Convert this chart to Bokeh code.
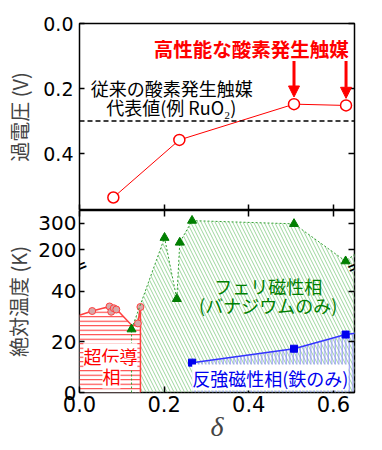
from bokeh.plotting import figure
from bokeh.layouts import column
from bokeh.models import (Range1d, LinearAxis, FixedTicker, PrintfTickFormatter,
                          CustomJSTickFormatter, Span, Arrow, NormalHead, Label)
from bokeh.embed import file_html
from bokeh.resources import INLINE

# ---------------- data ----------------
# overpotential (V) vs delta
ov_delta = [0.08, 0.236, 0.507, 0.630]
ov_volt = [0.535, 0.358, 0.248, 0.252]
ruo2_volt = 0.30
best_idx = [2, 3]

# superconducting phase (Tc, K)
sc_delta = [0.030, 0.071, 0.075, 0.081, 0.087, 0.138, 0.144]
sc_tc = [32.2, 34.0, 31.9, 33.3, 32.8, 27.3, 33.8]
sc_edge_delta = [0.0, 0.030, 0.071, 0.087, 0.125, 0.138, 0.144]
sc_edge_tc = [30.5, 32.2, 34.0, 33.0, 26.3, 27.3, 34.0]

# ferrimagnetic phase (V only)
fi_delta = [0.123, 0.201, 0.230, 0.237, 0.266, 0.507, 0.629, 0.68]
fi_tc = [25, 246, 37, 228, 310, 298, 158, 220]

# antiferromagnetic phase (Fe only)
afm_delta = [0.266, 0.507, 0.629, 0.70]
afm_tn = [11.8, 17.3, 22.9, 24.6]

x_ticks = [0.0, 0.2, 0.4, 0.6]
ov_ticks = [0.0, 0.2, 0.4]
t_ticks = [0, 20, 40, 200, 300]

# broken temperature axis
LOW, HIGH, S = 50.0, 140.0, 0.1054
T_TOP = 348


def ty(t):
    return t if t <= LOW else LOW + (t - HIGH) * S


CJK = "Noto Sans CJK JP"
NUM = "DejaVu Sans"
W = 370
X_END = 0.65
BLANK = "return '';"


def style_axis(ax, labels=True, size="20px", tick=6):
    ax.axis_line_color = None
    ax.major_tick_in = tick
    ax.major_tick_out = 0
    ax.major_tick_line_width = 1.5
    ax.major_tick_line_color = "black"
    ax.minor_tick_line_color = None
    if labels:
        ax.major_label_text_font = NUM
        ax.major_label_text_font_size = size
        ax.major_label_text_color = "black"
    else:
        ax.formatter = CustomJSTickFormatter(code=BLANK)
        ax.major_label_standoff = 0


# ---------------- top panel ----------------
top = figure(width=W, height=210, x_range=Range1d(0, X_END), y_range=Range1d(0.575, 0.0),
             output_backend="svg", toolbar_location=None,
             x_axis_location=None, y_axis_location=None,
             min_border_left=79, min_border_right=16, min_border_top=23, min_border_bottom=0)
top.grid.visible = False
top.outline_line_color = "black"
top.outline_line_width = 1.5
top.background_fill_color = "white"

yl = LinearAxis(ticker=FixedTicker(ticks=ov_ticks), formatter=PrintfTickFormatter(format="%.1f"))
style_axis(yl, True, "19px", 5)
yl.major_label_standoff = 6
yl.axis_label = "過電圧 (V)"
yl.axis_label_text_font = CJK
yl.axis_label_text_font_size = "20px"
yl.axis_label_text_font_style = "normal"
yl.axis_label_standoff = 6
top.add_layout(yl, "left")

yr = LinearAxis(ticker=FixedTicker(ticks=ov_ticks))
style_axis(yr, False)
top.add_layout(yr, "right")

xb = LinearAxis(ticker=FixedTicker(ticks=x_ticks))
style_axis(xb, False)
top.add_layout(xb, "below")

top.add_layout(Span(location=ruo2_volt, dimension="width", line_color="black",
                    line_width=1.5, line_dash="5 3"))
top.line(ov_delta, ov_volt, line_color="red", line_width=1)
top.scatter(ov_delta, ov_volt, marker="circle", size=11, line_color="red",
            line_width=1.5, fill_color="white")

for i in best_idx:
    top.add_layout(Arrow(end=NormalHead(size=11, fill_color="red", line_color="red"),
                         x_start=ov_delta[i], y_start=0.115,
                         x_end=ov_delta[i], y_end=ov_volt[i] - 0.022,
                         line_color="red", line_width=3))

top.add_layout(Label(x=0.406, y=0.077, text="高性能な酸素発生触媒", text_align="center",
                     text_baseline="middle", text_color="red", text_font=CJK,
                     text_font_size="19.5px", text_font_style="bold"))
top.add_layout(Label(x=0.218, y=0.197, text="従来の酸素発生触媒", text_align="center",
                     text_baseline="middle", text_color="black", text_font=CJK,
                     text_font_size="18px"))
top.add_layout(Label(x=0.217, y=0.258, text="代表値(例 RuO₂)", text_align="center",
                     text_baseline="middle", text_color="black", text_font=CJK,
                     text_font_size="18px"))

# ---------------- bottom panel ----------------
bot = figure(width=W, height=234, x_range=Range1d(0, X_END), y_range=Range1d(0, ty(T_TOP)),
             output_backend="svg", toolbar_location=None,
             x_axis_location=None, y_axis_location=None,
             min_border_left=79, min_border_right=16, min_border_top=0, min_border_bottom=0)
bot.grid.visible = False
bot.outline_line_color = "black"
bot.outline_line_width = 1.5
bot.background_fill_color = "white"

inv_js = """
const LOW = %f, HIGH = %f, S = %f;
if (tick <= LOW + 1e-6) { return Math.round(tick).toString(); }
return Math.round(HIGH + (tick - LOW) / S).toString();
""" % (LOW, HIGH, S)

tick_pos = [ty(t) for t in t_ticks]
byl = LinearAxis(ticker=FixedTicker(ticks=tick_pos), formatter=CustomJSTickFormatter(code=inv_js))
style_axis(byl, True, "20px", 5)
byl.major_label_standoff = 3
byl.axis_label = "絶対温度 (K)"
byl.axis_label_text_font = CJK
byl.axis_label_text_font_size = "20px"
byl.axis_label_text_font_style = "normal"
byl.axis_label_standoff = 2
bot.add_layout(byl, "left")

byr = LinearAxis(ticker=FixedTicker(ticks=tick_pos))
style_axis(byr, False)
bot.add_layout(byr, "right")

bxa = LinearAxis(ticker=FixedTicker(ticks=x_ticks))
style_axis(bxa, False)
bot.add_layout(bxa, "above")

bxb = LinearAxis(ticker=FixedTicker(ticks=x_ticks), formatter=PrintfTickFormatter(format="%.1f"))
style_axis(bxb, True, "21px", 6)
bxb.major_label_standoff = 3
bxb.axis_label = "δ"
bxb.axis_label_text_font = "Liberation Serif"
bxb.axis_label_text_font_style = "italic"
bxb.axis_label_text_font_size = "28px"
bxb.axis_label_standoff = -4
bot.add_layout(bxb, "below")

# phase regions
fi_y = [ty(t) for t in fi_tc]
bot.patch([fi_delta[0]] + fi_delta + [fi_delta[-1]], [0] + fi_y + [0],
          fill_color=None, line_color=None, hatch_pattern="\\", hatch_color="#9dd69d",
          hatch_scale=7, hatch_weight=1)

afm_y = [ty(t) for t in afm_tn]
bot.patch([afm_delta[0]] + afm_delta + [afm_delta[-1]], [0] + afm_y + [0],
          fill_color=None, line_color=None, hatch_pattern="|", hatch_color="#8c8cff",
          hatch_scale=3.5, hatch_weight=1)

sc_y = [ty(t) for t in sc_edge_tc]
bot.patch(sc_edge_delta + [sc_edge_delta[-1], sc_edge_delta[0]], sc_y + [0, 0],
          fill_color="white", line_color=None, hatch_pattern="-", hatch_color="#ff2a2a",
          hatch_scale=4.5, hatch_weight=1)

# boundaries and points
bot.line(sc_edge_delta + [sc_edge_delta[-1]], sc_y + [0], line_color="#ff4040", line_width=1.5)
bot.scatter(sc_delta, [ty(t) for t in sc_tc], marker="circle", size=7,
            line_color="#ff4040", fill_color="#d8a8a8", line_width=1)

bot.line([fi_delta[0]] + fi_delta, [0] + fi_y, line_color="#33a033", line_width=1,
         line_dash="2 2")
bot.scatter(fi_delta, fi_y, marker="triangle", size=9, line_color="#007a00",
            fill_color="#008000")

bot.line(afm_delta, afm_y, line_color="#3333ff", line_width=1.5)
bot.scatter(afm_delta, afm_y, marker="square", size=7, line_color="#0000ee",
            fill_color="#0000ee")

# labels
bot.add_layout(Label(x=0.446, y=ty(42), text="フェリ磁性相", text_align="center",
                     text_baseline="middle", text_color="#008000", text_font=CJK,
                     text_font_size="18px"))
bot.add_layout(Label(x=0.446, y=ty(34.4), text="(バナジウムのみ)", text_align="center",
                     text_baseline="middle", text_color="#008000", text_font=CJK,
                     text_font_size="18px"))
bot.add_layout(Label(x=0.451, y=ty(5.9), text="反強磁性相(鉄のみ)", text_align="center",
                     text_baseline="middle", text_color="#0000ee", text_font=CJK,
                     text_font_size="18px", background_fill_color="white"))
bot.add_layout(Label(x=0.073, y=ty(14.3), text="超伝導", text_align="center",
                     text_baseline="middle", text_color="red", text_font=CJK,
                     text_font_size="18px", background_fill_color="white"))
bot.add_layout(Label(x=0.0755, y=ty(6.7), text="相", text_align="center",
                     text_baseline="middle", text_color="red", text_font=CJK,
                     text_font_size="18px", background_fill_color="white"))

# axis break marks
for xb_ in (0.0, X_END):
    bot.add_layout(Label(x=xb_, y=LOW, text="=", angle=0.4, text_align="center",
                         text_baseline="middle", text_color="black", text_font=NUM,
                         text_font_size="20px"))

layout = column(top, bot, spacing=0)
open("out.html", "w").write(file_html(layout, INLINE))
